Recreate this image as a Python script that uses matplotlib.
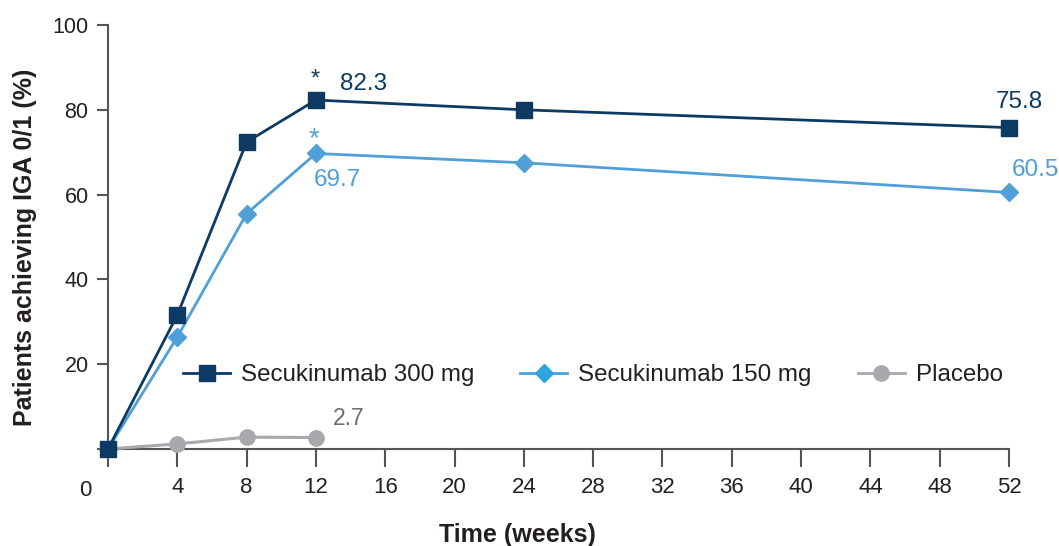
import matplotlib
matplotlib.use("Agg")
import matplotlib.pyplot as plt
from matplotlib.transforms import blended_transform_factory
from matplotlib.lines import Line2D

plt.rcParams['font.family'] = ['Liberation Sans', 'DejaVu Sans']

weeks_active = [0, 4, 8, 12, 24, 52]
secu300 = [0, 31.6, 72.4, 82.3, 80.0, 75.8]
secu150 = [0, 26.4, 55.5, 69.7, 67.5, 60.5]
weeks_placebo = [0, 4, 8, 12]
placebo = [0, 1.2, 2.8, 2.7]
xticks = [0, 4, 8, 12, 16, 20, 24, 28, 32, 36, 40, 44, 48, 52]
yticks = [0, 20, 40, 60, 80, 100]
labels = ['Secukinumab 300 mg', 'Secukinumab 150 mg', 'Placebo']

c300 = '#0d3a63'
c150 = '#4f9fd8'
c150_leg = '#2fa3dd'
cpl = '#a7a9ac'
ctext = '#231f20'

W, H = 1059, 546
fig = plt.figure(figsize=(W/100, H/100), dpi=100)
ax = fig.add_axes([108/W, 1-449/H, (1009-108)/W, (449-25)/H])
ax.set_xlim(0, 52)
ax.set_ylim(0, 100)

ax.plot(weeks_placebo, placebo, color=cpl, lw=2.2, marker='o', ms=11, clip_on=False, zorder=3)
ax.plot(weeks_active, secu150, color=c150, lw=2.0, marker='D', ms=9, clip_on=False, zorder=4)
ax.plot(weeks_active, secu300, color=c300, lw=2.0, marker='s', ms=11, clip_on=False, zorder=5)

h = [Line2D([], [], color=c300, lw=2, marker='s', ms=11),
     Line2D([], [], color=c150, lw=2, marker='D', ms=9, mfc=c150_leg, mec=c150_leg),
     Line2D([], [], color=cpl, lw=2, marker='o', ms=11)]
ax.legend(h, labels, ncol=3, frameon=False,
          loc='center left', bbox_to_anchor=(183/W, 1-375/H), bbox_transform=fig.transFigure,
          borderaxespad=0, borderpad=0, fontsize=17.4, handlelength=1.95,
          columnspacing=1.9, handletextpad=0.45, labelcolor=ctext)

for s in ['top', 'right']:
    ax.spines[s].set_visible(False)
for s in ['left', 'bottom']:
    ax.spines[s].set_color('#555555')
    ax.spines[s].set_linewidth(1.5)

ax.set_yticks(yticks)
ax.set_yticklabels(['', '20', '40', '60', '80', '100'])
ax.set_xticks(xticks)
ax.set_xticklabels([''] + [str(t) for t in xticks[1:]])
ax.tick_params(axis='y', direction='out', length=8, width=1.5, color='#555555',
               labelsize=15.5, labelcolor=ctext, pad=6)
ax.tick_params(axis='x', direction='out', length=13, width=1.5, color='#555555',
               labelsize=16, labelcolor=ctext, pad=7)
tr = blended_transform_factory(ax.transData, ax.transAxes)
ax.text(-1.3, (449-490)/424, '0', transform=tr, ha='center', va='center', fontsize=16, color=ctext)

fig.text(25/W, 1-247/H, 'Patients achieving IGA 0/1 (%)', rotation=90, ha='center', va='center',
         fontsize=18, fontweight='bold', color=ctext)
fig.text(517/W, 1-535/H, 'Time (weeks)', ha='center', va='center',
         fontsize=18, fontweight='bold', color=ctext)

ax.text(11.95, 84.5, '*', ha='center', va='bottom', fontsize=17, color=c300)
ax.text(13.4, 83.5, '82.3', ha='left', va='bottom', fontsize=17.5, color=c300)
ax.text(11.9, 70.0, '*', ha='center', va='bottom', fontsize=20, color=c150)
ax.text(11.9, 66.0, '69.7', ha='left', va='top', fontsize=17.5, color=c150)
ax.text(52.6, 79.3, '75.8', ha='center', va='bottom', fontsize=17.5, color=c300)
ax.text(53.5, 63.2, '60.5', ha='center', va='bottom', fontsize=17.5, color=c150)
ax.text(13.0, 4.5, '2.7', ha='left', va='bottom', fontsize=16.5, color='#6d6e71')

fig.savefig('out.png', dpi=100)
